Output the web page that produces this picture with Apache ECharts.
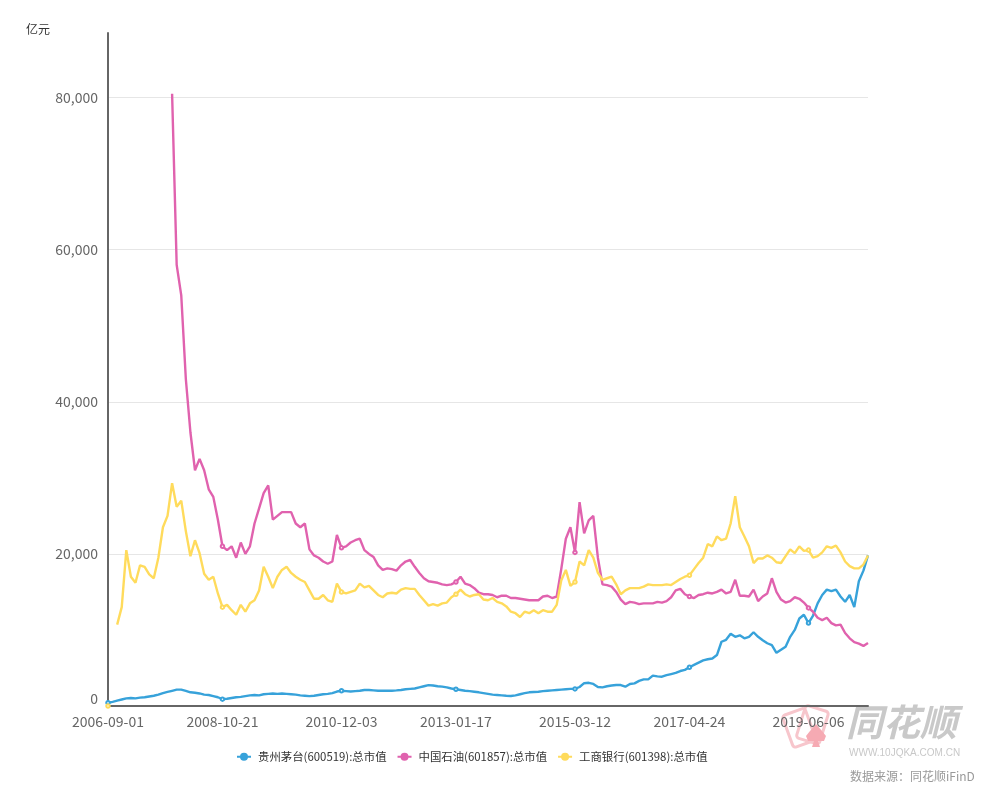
<!DOCTYPE html>
<html><head><meta charset="utf-8">
<script src="https://cdn.jsdelivr.net/npm/echarts@6/dist/echarts.min.js"></script>
<style>html,body{margin:0;padding:0;background:#fff}#c{width:988px;height:786px}</style>
</head><body><div id="c"></div>
<script>
const categories = [
'2006-09-01','2006-10','2006-11','2006-12',
'2007-01','2007-02','2007-03','2007-04','2007-05','2007-06','2007-07','2007-08','2007-09','2007-10','2007-11','2007-12',
'2008-01','2008-02','2008-03','2008-04','2008-05','2008-06','2008-07','2008-08','2008-09','2008-10-21','2008-11','2008-12',
'2009-01','2009-02','2009-03','2009-04','2009-05','2009-06','2009-07','2009-08','2009-09','2009-10','2009-11','2009-12',
'2010-01','2010-02','2010-03','2010-04','2010-05','2010-06','2010-07','2010-08','2010-09','2010-10','2010-11','2010-12-03',
'2011-01','2011-02','2011-03','2011-04','2011-05','2011-06','2011-07','2011-08','2011-09','2011-10','2011-11','2011-12',
'2012-01','2012-02','2012-03','2012-04','2012-05','2012-06','2012-07','2012-08','2012-09','2012-10','2012-11','2012-12',
'2013-01-17','2013-02','2013-03','2013-04','2013-05','2013-06','2013-07','2013-08','2013-09','2013-10','2013-11','2013-12',
'2014-01','2014-02','2014-03','2014-04','2014-05','2014-06','2014-07','2014-08','2014-09','2014-10','2014-11','2014-12',
'2015-01','2015-02','2015-03-12','2015-04','2015-05','2015-06','2015-07','2015-08','2015-09','2015-10','2015-11','2015-12',
'2016-01','2016-02','2016-03','2016-04','2016-05','2016-06','2016-07','2016-08','2016-09','2016-10','2016-11','2016-12',
'2017-01','2017-02','2017-03','2017-04-24','2017-05','2017-06','2017-07','2017-08','2017-09','2017-10','2017-11','2017-12',
'2018-01','2018-02','2018-03','2018-04','2018-05','2018-06','2018-07','2018-08','2018-09','2018-10','2018-11','2018-12',
'2019-01','2019-02','2019-03','2019-04','2019-05','2019-06-06','2019-07','2019-08','2019-09','2019-10','2019-11','2019-12',
'2020-01','2020-02','2020-03','2020-04','2020-05','2020-06','2020-07'
];
const tickLabels = ['2006-09-01','2008-10-21','2010-12-03','2013-01-17','2015-03-12','2017-04-24','2019-06-06'];
const yTicks = [0, 20000, 40000, 60000, 80000];
const seriesNames = ['贵州茅台(600519):总市值','中国石油(601857):总市值','工商银行(601398):总市值'];

const moutai = [
430,550,700,850,1000,1050,1000,1100,1150,1250,1350,1500,
1700,1850,2000,2150,2150,2000,1800,1750,1650,1500,1450,1300,
1150,900,950,1050,1150,1200,1300,1400,1450,1400,1550,1600,
1650,1600,1650,1600,1550,1500,1400,1350,1300,1350,1450,1550,
1600,1700,1900,2000,1950,1900,1950,2000,2100,2100,2050,2000,
2000,2000,2010,2050,2100,2200,2250,2300,2450,2600,2750,2700,
2600,2550,2450,2300,2200,2100,2000,1950,1880,1800,1700,1600,
1500,1450,1400,1350,1310,1400,1550,1700,1800,1850,1880,1950,
2000,2050,2100,2150,2200,2250,2250,2500,3000,3050,2900,2500,
2450,2600,2700,2760,2760,2540,2900,2980,3300,3500,3500,4000,
3900,3850,4050,4200,4350,4600,4750,5100,5400,5700,6000,6150,
6250,6700,8450,8700,9500,9100,9300,8900,9100,9700,9100,8650,
8250,8000,7000,7400,7800,9100,10000,11500,12000,10900,11900,13500,
14600,15300,15100,15300,14400,13700,14600,13000,16400,17800,19800
];
const petrochina = [
null,null,null,null,null,null,null,null,null,null,null,null,
null,null,80500,58000,54000,43000,36000,31000,32500,31000,28500,27500,
24500,21000,20500,21000,19500,21500,20000,21000,24000,26000,28000,29000,
24500,25000,25500,25500,25500,24000,23500,24000,20600,19800,19500,19000,
18700,19000,22500,20800,21000,21500,21800,22000,20500,20000,19600,18500,
17900,18100,18000,17800,18500,19000,19200,18300,17500,16800,16400,16300,
16200,16000,15900,16000,16300,17000,16100,15900,15500,14900,14700,14700,
14600,14300,14500,14500,14200,14200,14100,14000,13900,13900,13900,14400,
14500,14200,14400,18000,22000,23500,20200,26800,22700,24400,25000,19500,
16000,15900,15700,15000,14000,13400,13700,13600,13400,13500,13500,13500,
13700,13600,13800,14300,15200,15400,14700,14400,14200,14600,14700,14900,
14800,15000,15300,14800,15000,16600,14500,14500,14400,15300,13800,14400,
14800,16800,15000,14000,13600,13800,14300,14100,13600,12900,12400,11600,
11300,11600,10900,10600,10700,9600,8900,8400,8200,7900,8300
];
const icbc = [
0,null,10700,13000,20500,17000,16200,18500,18300,17300,16800,19500,
23500,25000,29300,26200,27000,23000,19700,21800,20100,17400,16600,17000,
14800,13000,13300,12600,12000,13300,12400,13500,13900,15200,18300,17000,
15500,17000,17900,18300,17500,17000,16600,16300,15200,14100,14100,14600,
13900,13700,16100,15000,14800,15000,15200,16100,15600,15800,15200,14600,
14300,14800,14900,14800,15300,15500,15400,15400,14600,13900,13200,13400,
13200,13500,13600,14300,14700,15300,14700,14400,14600,14700,14000,13900,
14200,13700,13500,13100,12400,12200,11700,12400,12200,12600,12200,12600,
12400,12400,13300,16500,17900,15800,16300,19000,18500,20500,19500,17500,
16600,16800,17000,16000,14700,15200,15500,15500,15500,15700,16000,15900,
15900,15900,16000,15900,16300,16700,17000,17200,18000,18800,19500,21300,
21000,22300,21800,22000,24000,27600,23500,22300,21000,18800,19400,19400,
19800,19500,18900,18800,19700,20600,20100,21000,20400,20500,19500,19700,
20200,21000,20800,21100,20200,19000,18400,18100,18100,18600,19800
];
const colors = ['#37a2da', '#e062ae', '#ffdb5c'];
const FONT = "'Microsoft YaHei','Noto Sans CJK SC',sans-serif";
const legendIcon = 'path://M0,3H3.3V5H0Z M10.7,3H14V5H10.7Z M7,0A4,4 0 1,1 7,8A4,4 0 1,1 7,0Z';

const chart = echarts.init(document.getElementById('c'), null, {renderer: 'canvas'});
const lineSeries = (i, data) => ({
  name: seriesNames[i], type: 'line', data: data,
  symbol: 'emptyCircle', symbolSize: 3.5, showAllSymbol: false,
  itemStyle: {borderWidth: 1.5},
  lineStyle: {width: 2.4}
});
chart.setOption({
  animation: false,
  color: colors,
  textStyle: {fontFamily: FONT},
  grid: {left: 108, right: 120, top: 33, bottom: 80, containLabel: false},
  legend: {
    left: 232, top: 746, itemWidth: 14, itemHeight: 8, itemGap: 11,
    textStyle: {fontSize: 11.4, color: '#333', fontFamily: FONT, padding: [0, 0, 0, 2]},
    data: seriesNames.map(n => ({name: n, icon: legendIcon}))
  },
  xAxis: {
    type: 'category', data: categories, boundaryGap: false,
    axisLine: {lineStyle: {color: '#666', width: 2}},
    axisTick: {show: false},
    axisLabel: {
      interval: (idx, val) => tickLabels.includes(val),
      color: '#666', fontSize: 14, margin: 9, fontFamily: FONT
    },
    splitLine: {show: false}
  },
  yAxis: {
    type: 'value', min: 0, max: 88500, interval: 20000,
    name: '亿元', nameLocation: 'end', nameGap: -2,
    nameTextStyle: {color: '#333', fontSize: 12, align: 'right', padding: [0, 58, 0, 0], fontFamily: FONT},
    axisLine: {show: true, lineStyle: {color: '#666', width: 2}},
    axisTick: {show: false},
    axisLabel: {
      color: '#666', fontSize: 14, margin: 10, fontFamily: FONT, showMaxLabel: false,
      formatter: v => yTicks.includes(v) ? (v === 0 ? '{z|0}' : v.toLocaleString('en-US')) : '',
      rich: {z: {color: '#666', fontSize: 14, padding: [0, 0, 14, 0], fontFamily: FONT}}
    },
    splitLine: {show: true, showMaxLine: false, lineStyle: {color: '#e6e6e6', width: 1}}
  },
  series: [
    lineSeries(0, moutai),
    lineSeries(1, petrochina),
    lineSeries(2, icbc)
  ],
  graphic: [
    {type: 'rect', shape: {x: 0, y: 0, width: 24, height: 34, r: 3}, x: 782, y: 716, rotation: 0.35,
      style: {fill: 'none', stroke: '#f7c6cc', lineWidth: 3}, silent: true},
    {type: 'rect', shape: {x: 0, y: 0, width: 24, height: 34, r: 3}, x: 806, y: 705, rotation: -0.3,
      style: {fill: 'none', stroke: '#f7c6cc', lineWidth: 3}, silent: true},
    {type: 'polygon', shape: {points: [[816,724],[822,731],[826,736],[824,741],[818,741],[820,747],[812,747],[814,741],[808,741],[806,736],[810,731]]},
      style: {fill: '#f6aab3'}, silent: true},
    {type: 'text', x: 846, y: 703, silent: true,
      style: {text: '同花顺', font: "italic bold 37px 'Noto Sans CJK SC'", fill: '#c9c9c9'}},
    {type: 'text', x: 849, y: 748, silent: true,
      style: {text: 'WWW.10JQKA.COM.CN', font: "10px 'Liberation Sans'", fill: '#c8c8c8'}},
    {type: 'text', x: 850, y: 770, silent: true,
      style: {text: '数据来源：同花顺iFinD', font: "12px 'Noto Sans CJK SC'", fill: '#999'}}
  ]
});
</script></body></html>
